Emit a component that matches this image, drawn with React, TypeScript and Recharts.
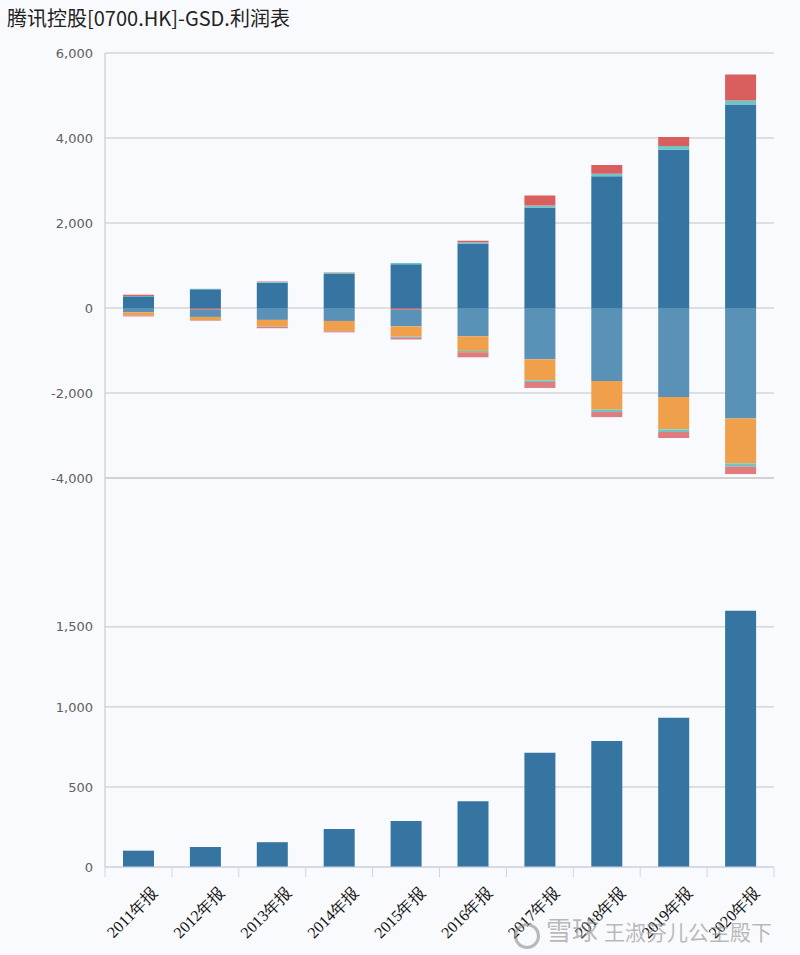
import { BarChart, Bar, XAxis, YAxis, CartesianGrid } from 'recharts';

// values in 亿
const years = ['2011年报', '2012年报', '2013年报', '2014年报', '2015年报', '2016年报', '2017年报', '2018年报', '2019年报', '2020年报'];
const revenue = [275, 440, 595, 800, 1030, 1515, 2365, 3100, 3725, 4790];
const interestIncome = [8, 12, 20, 25, 30, 30, 45, 60, 85, 90];
const otherGains = [30, -30, 10, 10, -30, 40, 235, 205, 212, 612];
const costOfRevenue = [-100, -180, -280, -305, -400, -665, -1207, -1718, -2095, -2598];
const sellingAdmin = [-70, -80, -160, -235, -235, -345, -494, -675, -760, -1060];
const financeCosts = [-3, -4, -6, -8, -25, -30, -40, -55, -63, -70];
const incomeTax = [-25, -10, -30, -25, -50, -120, -140, -120, -141, -180];
const netProfit = [102, 125, 155, 238, 288, 411, 714, 787, 933, 1600];

const topTicks = [-4000, -2000, 0, 2000, 4000, 6000];
const bottomTicks = [0, 500, 1000, 1500];

const topData = years.map((year, i) => ({
  year,
  revenue: revenue[i],
  interestIncome: interestIncome[i],
  otherGains: otherGains[i],
  costOfRevenue: costOfRevenue[i],
  sellingAdmin: sellingAdmin[i],
  financeCosts: financeCosts[i],
  incomeTax: incomeTax[i],
}));
const bottomData = years.map((year, i) => ({ year, netProfit: netProfit[i] }));

const AXIS_BLUE = '#ccd6eb';
const GRID = '#c4c4c4';
const fmt = (v: number) => v.toLocaleString('en-US');

const yTick = { fill: '#5f5f5f', fontSize: 13, fontFamily: 'DejaVu Sans, sans-serif' };

function TopTick(props: any) {
  const { x, y, payload, index } = props;
  const off = payload?.offset ?? 0;
  return (
    <g>
      <line x1={x - off} x2={x - off} y1={y} y2={y - 8} stroke={AXIS_BLUE} />
      {index === years.length - 1 && <line x1={x + off} x2={x + off} y1={y} y2={y - 8} stroke={AXIS_BLUE} />}
    </g>
  );
}

function BottomTick(props: any) {
  const { x, y, payload, index } = props;
  const off = payload?.offset ?? 0;
  const tx = x + 20;
  const ty = y + 27;
  return (
    <g>
      <line x1={x - off} x2={x - off} y1={y} y2={y + 10} stroke={AXIS_BLUE} />
      {index === years.length - 1 && <line x1={x + off} x2={x + off} y1={y} y2={y + 10} stroke={AXIS_BLUE} />}
      <text
        x={tx}
        y={ty}
        transform={`rotate(-45 ${tx} ${ty})`}
        textAnchor="end"
        fill="#111"
        fontSize={16}
        fontFamily="'Liberation Serif', serif"
      >
        {payload.value}
      </text>
    </g>
  );
}

function TopChart() {
  return (
    <BarChart width={800} height={955} data={topData} stackOffset="sign" barSize={31}
      margin={{ top: 53, right: 26, left: 0, bottom: 477 }}>
      <CartesianGrid vertical={false} stroke={GRID} />
      <XAxis dataKey="year" orientation="top" height={0} interval={0} tickSize={0} tickMargin={0}
        axisLine={{ stroke: AXIS_BLUE }} tickLine={false} tick={(p: any) => <TopTick {...p} />} />
      <YAxis domain={[-4000, 6000]} ticks={topTicks} width={105} tickFormatter={fmt} tick={yTick}
        tickLine={false} tickSize={0} tickMargin={12} axisLine={{ stroke: GRID }} allowDataOverflow />
      <YAxis yAxisId="r" orientation="right" width={0} domain={[0, 1]} tick={false} tickLine={false}
        axisLine={{ stroke: GRID }} />
      <Bar dataKey="revenue" stackId="a" fill="#3675a1" isAnimationActive={false} />
      <Bar dataKey="interestIncome" stackId="a" fill="#6ec5c8" isAnimationActive={false} />
      <Bar dataKey="otherGains" stackId="a" fill="#d95f5f" isAnimationActive={false} />
      <Bar dataKey="costOfRevenue" stackId="a" fill="#5a91b6" isAnimationActive={false} />
      <Bar dataKey="sellingAdmin" stackId="a" fill="#f0a04a" isAnimationActive={false} />
      <Bar dataKey="financeCosts" stackId="a" fill="#6ec5c8" isAnimationActive={false} />
      <Bar dataKey="incomeTax" stackId="a" fill="#e07c7e" isAnimationActive={false} />
    </BarChart>
  );
}

function BottomChart() {
  return (
    <BarChart width={800} height={955} data={bottomData} barSize={31}
      margin={{ top: 478, right: 26, left: 0, bottom: 0 }}>
      <CartesianGrid vertical={false} stroke={GRID} />
      <XAxis dataKey="year" height={88} interval={0} tickSize={0} tickMargin={0}
        axisLine={{ stroke: AXIS_BLUE }} tickLine={false} tick={(p: any) => <BottomTick {...p} />} />
      <YAxis domain={[0, 2430]} ticks={bottomTicks} width={105} tickFormatter={fmt} tick={yTick}
        tickLine={false} tickSize={0} tickMargin={12} axisLine={{ stroke: GRID }} allowDataOverflow />
      <YAxis yAxisId="r" orientation="right" width={0} domain={[0, 1]} tick={false} tickLine={false}
        axisLine={{ stroke: GRID }} />
      <Bar dataKey="netProfit" fill="#3675a1" isAnimationActive={false} />
    </BarChart>
  );
}

const wmColor = 'rgba(140,140,140,0.6)';

export default function App() {
  return (
    <div style={{ position: 'fixed', left: 0, top: 0, width: 800, height: 955, background: '#f9fafd', overflow: 'hidden' }}>
      <div style={{ position: 'absolute', left: 0, top: 0 }}><BottomChart /></div>
      <div style={{ position: 'absolute', left: 0, top: 0 }}><TopChart /></div>
      <div style={{
        position: 'absolute', left: 7, top: 6, fontSize: 20, lineHeight: '24px', color: '#222',
        fontFamily: "'Noto Sans CJK SC', sans-serif", whiteSpace: 'nowrap',
      }}>
        腾讯控股[0700.HK]-GSD.利润表
      </div>
      <div style={{
        position: 'absolute', left: 514, top: 914, lineHeight: '30px', color: wmColor,
        fontFamily: "'Noto Sans CJK SC', sans-serif", whiteSpace: 'nowrap', pointerEvents: 'none',
      }}>
        <span style={{ display: 'inline-block', width: 20, height: 20, border: `3px solid ${wmColor}`, borderRadius: '50%', verticalAlign: 'middle', marginRight: 6 }} />
        <span style={{ fontSize: 26, marginRight: 6 }}>雪球</span>
        <span style={{ fontSize: 21 }}>王淑芬儿公主殿下</span>
      </div>
    </div>
  );
}
